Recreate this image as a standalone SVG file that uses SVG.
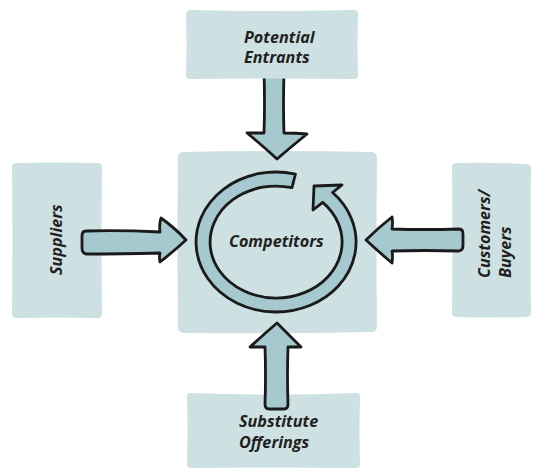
<svg xmlns="http://www.w3.org/2000/svg" width="536" height="471" viewBox="0 0 536 471">
<style>
.box{fill:#cde0e2;stroke:none}
.arr{fill:#a5c9cf;stroke:#1a1a1a;stroke-width:2.8;stroke-linejoin:round;stroke-linecap:round}
.lbl{font-family:"Open Sans",sans-serif;font-style:italic;font-weight:700;font-size:16.2px;fill:#231f20}
</style>
<rect width="536" height="471" fill="#ffffff"/>
<g id="competitors">
<path class="box" d="M183,152 Q280,150 372,152 Q377,153 377,159 Q376,245 377,326 Q377,332 371,332 Q280,334 184,333 Q178,333 178,327 Q177,240 178,158 Q178,152 183,152 Z"/>
<path class="arr" d="M295.4,174.1 A80,70 0 1 0 332.6,192.5 L342,185 L314,186 L313,210 L322.7,202.4 A66,56 0 1 1 292,187.7 Z"/>
<text class="lbl" x="229" y="247">Competitors</text>
</g>
<g id="suppliers">
<path class="box" d="M16,163 Q57,162 98,163 Q102,163 102,167 Q101,240 102,313 Q102,318 98,318 Q57,317 16,318 Q12,318 12,314 Q13,240 12,167 Q12,163 16,163 Z"/>
<text class="lbl" transform="translate(62,275) rotate(-90)" x="0" y="0">Suppliers</text>
</g>
<g id="customers-buyers">
<path class="box" d="M456,163 Q492,162 527,164 Q531,164 531,168 Q530,240 531,313 Q531,317 527,317 Q492,318 456,317 Q452,317 452,313 Q453,240 452,167 Q452,163 456,163 Z"/>
<text class="lbl" transform="translate(490,278) rotate(-90)" x="0" y="0">Customers/</text>
<text class="lbl" transform="translate(511,278) rotate(-90)" x="0" y="0">Buyers</text>
</g>
<g id="substitute-offerings">
<path class="box" d="M191,393 Q275,396 356,393 Q360,393 360,397 Q359,430 360,464 Q360,468 356,468 Q275,467 191,468 Q187,468 187,464 Q188,430 187,397 Q187,393 191,393 Z"/>
<text class="lbl" x="239" y="427">Substitute</text>
<text class="lbl" x="239" y="448">Offerings</text>
</g>
<g id="connectors">
<path class="arr" d="M86,231 Q120,230 160,232 Q159,224 161,218 Q175,228 186,240 Q174,251 160,262 Q159,257 160,253 Q120,254 86,254 Q82,253 82,248 L82,236 Q82,231 86,231 Z"/>
<path class="arr" d="M459,229 Q425,230 392,229 Q393,223 392,217 Q378,228 366,240 Q379,252 392,263 Q393,256 392,251 Q425,250 459,251 Q463,250 463,246 L463,234 Q463,229 459,229 Z"/>
<path class="arr" d="M264,72 Q265,105 264,133 Q256,133 247,133 Q262,145 277,159 Q292,146 307,134 Q296,133 284,133 Q283,105 284,72 Z"/>
<path class="arr" d="M265,404 Q266,375 265,347 Q258,347 250,347 Q263,335 277,323 Q289,335 301,347 Q294,347 288,347 Q287,375 288,404 Q288,409 284,409 L269,409 Q265,409 265,404 Z"/>
</g>
<g id="potential-entrants">
<path class="box" d="M191,10 Q270,12 354,10 Q358,10 358,14 Q357,45 358,75 Q358,79 354,79 Q270,78 190,79 Q186,79 186,75 Q187,45 186,15 Q186,10 191,10 Z"/>
<text class="lbl" x="244" y="43">Potential</text>
<text class="lbl" x="244" y="63">Entrants</text>
</g>
</svg>
